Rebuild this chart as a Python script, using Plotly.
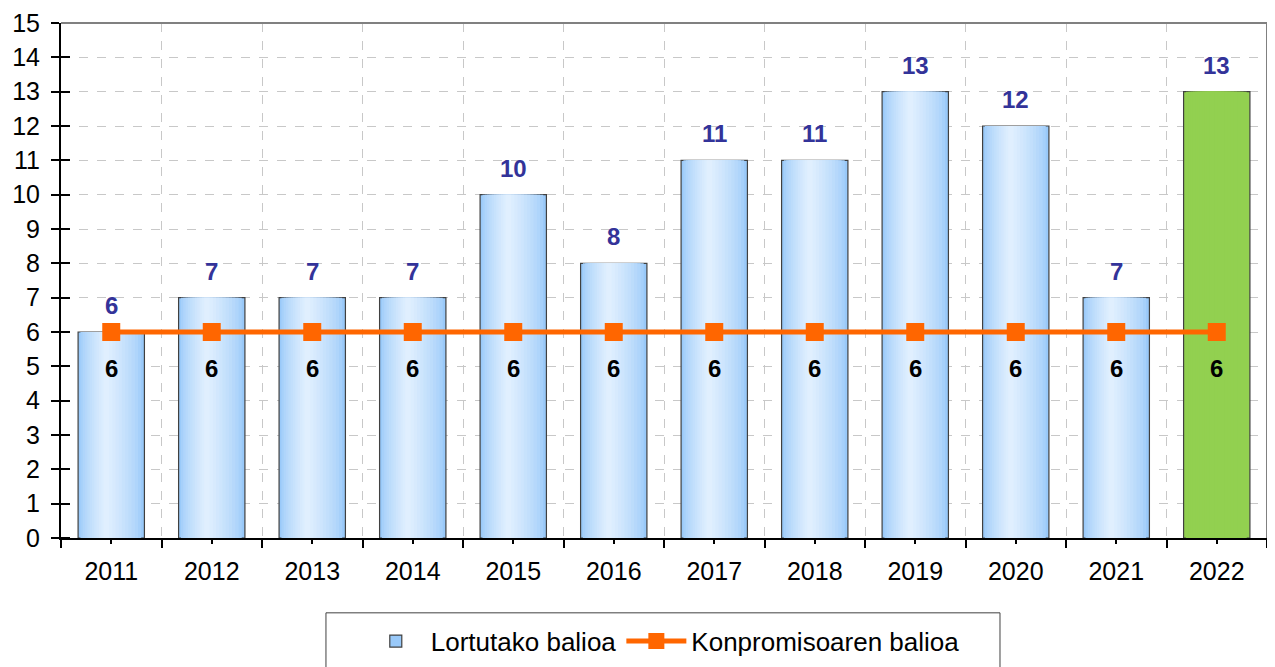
import plotly.graph_objects as go

years = ["2011", "2012", "2013", "2014", "2015", "2016", "2017", "2018", "2019", "2020", "2021", "2022"]
achieved = [6, 7, 7, 7, 10, 8, 11, 11, 13, 12, 7, 13]
commitment = [6, 6, 6, 6, 6, 6, 6, 6, 6, 6, 6, 6]
y_ticks = list(range(0, 16))

pos = list(range(len(years)))
FONT = "Liberation Sans, Arial, sans-serif"

def lerp(c1, c2, t):
    return "#%02x%02x%02x" % tuple(int(round(a + (b - a) * t)) for a, b in zip(c1, c2))

edge = (0x99, 0xc9, 0xf9)
center = (0xe0, 0xef, 0xfe)
green = "#92d050"

fig = go.Figure()
N = 12
W = 0.66
F = 0.42  # lightest point as fraction of bar width
for k in range(N):
    t = k / (N - 1)
    frac = k / N
    w = W * (1 - frac)
    off = -W / 2 + W * F * frac
    col = lerp(edge, center, t ** 0.7)
    colors = [green if y == "2022" else col for y in years]
    fig.add_trace(go.Bar(
        x=pos, y=achieved, width=w, offset=off,
        marker=dict(color=colors,
                    line=dict(color="#404040", width=1.2) if k == 0 else dict(width=0)),
        name="Lortutako balioa", showlegend=(k == 0), hoverinfo="skip" if k else None,
    ))

fig.add_trace(go.Scatter(
    x=pos, y=commitment, mode="lines+markers", name="Konpromisoaren balioa",
    line=dict(color="#ff6600", width=5),
    marker=dict(symbol="square", size=18, color="#ff6600"),
))

annotations = []
for p, a, c in zip(pos, achieved, commitment):
    annotations.append(dict(x=p, y=a, text=str(a), showarrow=False, yanchor="bottom", yshift=11,
                            font=dict(family=FONT, size=24, color="#333399", weight="bold")))
    annotations.append(dict(x=p, y=c, text=str(c), showarrow=False, yanchor="top", yshift=-21,
                            font=dict(family=FONT, size=24, color="#000000", weight="bold")))

# page body has ~8px margin, so figure coords = page coords - 8
fig.update_layout(
    width=1275, height=667,
    margin=dict(l=53, r=16, t=15, b=136),
    paper_bgcolor="white", plot_bgcolor="white",
    barmode="overlay",
    font=dict(family=FONT, size=25, color="#000000"),
    annotations=annotations,
    showlegend=True,
    legend=dict(orientation="h", x=0.499, xanchor="center", y=-0.198, yanchor="middle",
                borderwidth=0, font=dict(size=26), itemwidth=60),
    shapes=[
        dict(type="line", xref="paper", yref="paper", x0=0, x1=1, y0=1, y1=1,
             line=dict(color="#808080", width=2)),
        dict(type="line", xref="paper", yref="paper", x0=1, x1=1, y0=0, y1=1,
             line=dict(color="#808080", width=2)),
        dict(type="rect", xref="paper", yref="paper", x0=0.2197, x1=0.7786, y0=-0.1453, y1=-0.40,
             line=dict(color="#404040", width=1), fillcolor="rgba(0,0,0,0)"),
    ],
)

fig.update_xaxes(
    range=[-0.5, len(years) - 0.5], automargin=False,
    tickmode="array", tickvals=pos, ticktext=years,
    ticks="outside", ticklen=4, tickwidth=1.5, tickcolor="#000",
    ticklabelstandoff=6,
    showgrid=False, showline=True, linecolor="#000", linewidth=2,
    zeroline=False,
    minor=dict(tickmode="linear", tick0=-0.5, dtick=1, ticks="outside", ticklen=8,
               tickwidth=1.5, tickcolor="#000", showgrid=True, gridcolor="#c8c8c8",
               griddash="dash", gridwidth=1),
    tickfont=dict(size=25),
)
fig.update_yaxes(
    range=[0, 15], automargin=False, tickmode="array", tickvals=y_ticks,
    ticks="outside", ticklen=8, tickwidth=1.5, tickcolor="#000",
    ticklabelstandoff=6,
    showgrid=True, gridcolor="#c8c8c8", griddash="dash", gridwidth=1,
    showline=True, linecolor="#000", linewidth=2, zeroline=False,
    minor=dict(tickmode="array", tickvals=y_ticks, ticks="inside", ticklen=9,
               tickwidth=1.5, tickcolor="#000", showgrid=False),
    tickfont=dict(size=25),
)

fig.write_html("out.html")
